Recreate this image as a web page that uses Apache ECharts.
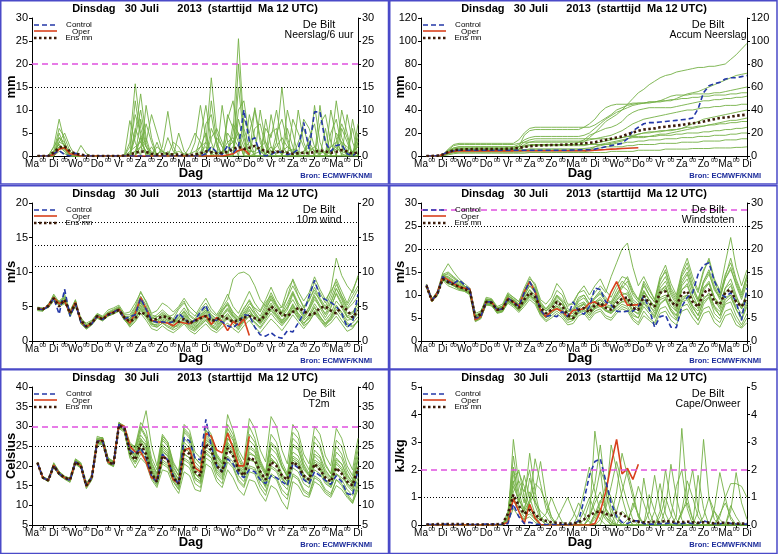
<!DOCTYPE html>
<html>
<head>
<meta charset="utf-8">
<script src="https://cdn.jsdelivr.net/npm/echarts@6/dist/echarts.min.js"></script>
<style>
  html, body { margin: 0; padding: 0; background: #fff; }
  #main { width: 778px; height: 554px; }
</style>
</head>
<body>
<div id="main"></div>
<script>
// tijd-as: daglabels om 12 UTC, "00" ertussen; data 6-uurlijks van +6 t/m +360 uur
const dayNames = ['Ma', 'Di', 'Wo', 'Do', 'Vr', 'Za', 'Zo', 'Ma', 'Di', 'Wo', 'Do', 'Vr', 'Za', 'Zo', 'Ma', 'Di'];

// ---------- Neerslag/6 uur (mm) ----------
const rainCtl = [
  0, 0, 0, 0.5, 1.2, 0.3, 0, 0.6, 0.2, 0,
  0, 0, 0, 0, 0, 0, 0, 0, 0, 0,
  0, 0, 0, 0, 0, 0, 0, 0, 0, 0,
  0, 0.5, 2.0, 0.8, 0.3, 2.3, 0.6, 2.0, 10, 3.2,
  4.0, 0.5, 0, 0.3, 1.0, 0.8, 0.3, 0.6, 1.5, 7.3,
  1.5, 9.6, 9.6, 3.0, 1.0, 2.3, 2.5, 0.5, 0, 1.0];
const rainOper = [
  0, 0, 0, 0.3, 1.5, 1.8, 0.5, 0.3, 0, 0,
  0, 0, 0, 0, 0, 0, 0, 0, 0, 0,
  0, 0, 0, 0, 0, 0, 0, 0, 0, 0,
  0, 0, 0, 0, 0, 0.2, 0.5, 1.2, 1.5, 0.3];
const rainMean = [
  0, 0, 0, 0.8, 1.8, 2.1, 1.0, 0.5, 0.3, 0.1,
  0, 0, 0, 0, 0, 0, 0.1, 0.3, 0.7, 1.0,
  0.9, 0.5, 0.3, 0.4, 0.5, 0.3, 0.3, 0.2, 0.2, 0.3,
  0.6, 1.0, 0.8, 0.6, 0.7, 0.9, 1.5, 2.0, 1.5, 1.8,
  2.2, 1.5, 1.0, 0.8, 0.9, 1.0, 0.7, 0.5, 0.6, 0.7,
  0.6, 0.9, 1.2, 1.0, 0.7, 0.9, 1.3, 1.0, 0.5, 0.8];
const rainMembers = [
  [0, 0, 0, 2, 8, 3, 0, 0, 0, 0,  0, 0, 0, 0, 0, 0, 0, 3, 15.7, 6,  2, 0, 0, 0, 0, 0, 0, 0, 0, 0,
   4, 11, 3, 0, 0, 0, 5, 25.5, 6, 2,  0, 0, 0, 0, 3, 15, 4, 0, 0, 0,  0, 0, 0, 0, 2, 12, 4, 1, 0, 0],
  [0, 0, 0, 1, 6, 4, 1, 0, 0, 0,  0, 0, 0, 0, 0, 0, 0, 0, 5, 13.5,  4, 0, 0, 2, 9.7, 2, 0, 0, 0, 0,
   0, 3, 17, 5, 2, 0, 0, 15, 4, 0,  0, 10, 3, 0, 0, 0, 0, 0, 0, 0,  0, 11, 3, 0, 0, 0, 0, 0, 8, 2],
  [0, 0, 0, 0, 5, 2, 0, 0, 2.3, 0.5,  0, 0, 0, 0, 0, 0, 0, 7.7, 3, 0,  11, 4, 0, 0, 0, 0, 5, 1, 0, 0,
   0, 0, 0, 0, 11, 3, 0, 0, 0, 0,  10.5, 4, 0, 9, 3, 0, 0, 0, 10, 3,  0, 0, 0, 0, 0, 0, 10, 5, 0, 7],
  [0, 0, 0, 2, 4, 2, 0, 0, 0, 0,  0, 0, 0, 0, 0, 0, 0, 0, 0, 4,  3, 9, 5, 1, 0, 0, 0, 0, 0, 3,
   11, 4, 0, 0, 0, 8, 12, 4, 0, 0,  0, 0, 8, 2, 0, 0, 6, 2, 0, 0,  0, 0, 11, 3, 0, 5, 3, 0, 0, 0],
  [0, 0, 0, 0, 3, 5, 2, 0, 0, 0,  0, 0, 0, 0, 0, 0, 0, 0, 12, 4,  0, 0, 3, 0, 0, 3, 2, 0, 0, 0,
   0, 0, 6, 3, 0, 0, 0, 10, 12, 4,  0, 0, 0, 0, 5, 8, 3, 0, 0, 0,  4, 7, 0, 0, 10, 4, 0, 0, 0, 5],
  [0, 0, 0, 1, 2.5, 1, 0, 0, 0, 0,  0, 0, 0, 0, 0, 0, 0, 2, 9, 5,  0, 2, 0, 0, 0, 0, 0, 0, 2, 5,
   3, 0, 0, 4, 2, 0, 7, 5, 0, 9,  4, 0, 0, 0, 0, 0, 0, 8, 5, 2,  0, 0, 0, 6, 0, 0, 0, 9, 3, 0],
  [0, 0, 0, 0, 4, 3, 0, 0, 0, 0,  0, 0, 0, 0, 0, 0, 0, 0, 0, 8,  2, 0, 0, 0, 4, 1, 0, 0, 0, 0,
   0, 7, 9, 2, 0, 5, 3, 0, 8, 5,  10, 3, 0, 0, 0, 0, 0, 0, 0, 8,  6, 2, 0, 0, 0, 0, 6, 3, 0, 4],
  [0, 0, 0, 0, 2, 1.5, 0, 0, 0, 0,  0, 0, 0, 0, 0, 0, 0, 0, 6, 3,  1, 0, 0, 0, 0, 0, 0, 0, 0, 0,
   0, 0, 4, 6, 3, 0, 0, 20, 5, 0,  0, 0, 6, 4, 10, 3, 0, 0, 0, 0,  0, 0, 7, 9, 3, 0, 0, 0, 6, 0],
  [0, 0, 0, 0, 1.5, 2, 1, 0, 0, 0,  0, 0, 0, 0, 0, 0, 0, 0, 0, 2,  7, 3, 0, 0, 0, 0, 0, 0, 0, 0,
   2, 5, 0, 0, 0, 9, 6, 3, 0, 0,  6, 7, 2, 0, 0, 0, 10, 5, 0, 0,  0, 0, 0, 0, 5, 8, 2, 0, 0, 0],
  [0, 0, 0, 0.5, 3, 2.5, 0, 0, 0, 0,  0, 0, 0, 0, 0, 0, 0, 0, 4, 10,  3, 0, 2, 1, 0, 0, 0, 0, 0, 0,
   0, 0, 12, 3, 0, 0, 0, 8, 3, 0,  0, 0, 0, 5, 6, 0, 0, 0, 3, 6,  2, 0, 0, 0, 0, 3, 7, 4, 0, 3],
  [0, 0, 0, 0.5, 2, 1, 0, 0, 0, 0,  0, 0, 0, 0, 0, 0, 0, 1, 2, 3,  1, 0, 0.5, 1, 0.5, 0, 0, 0, 0.5, 1,
   2, 3, 1, 0.5, 1, 2, 3, 5, 2, 1,  1, 2, 3, 1, 0.5, 1, 2, 1, 0.5, 1,  2, 1, 0.5, 1, 2, 3, 1, 0.5, 1, 2],
  [0, 0, 0, 0, 1, 0.5, 0, 0, 0, 0,  0, 0, 0, 0, 0, 0, 0, 0.5, 1, 2,  0.5, 0, 0, 0, 0, 0.5, 1, 0.5, 0, 0,
   0.5, 1, 2, 1, 0.5, 1, 2, 1, 1.5, 3,  2, 1, 0.5, 2, 1, 0.5, 1, 1.5, 1, 0.5,  1, 2, 1, 0.5, 1, 1.5, 3, 2, 1, 0.5],
  [0, 0, 0, 1, 2.5, 1.5, 0.3, 0, 0, 0,  0, 0, 0, 0, 0, 0, 0, 0, 1, 4,  2, 1, 0, 0, 1, 0, 0, 0, 0, 0,
   1, 2, 0.5, 0, 1, 3, 4, 2, 1, 0,  0.5, 1, 0, 1, 2, 4, 2, 1, 0, 1,  3, 1, 0, 0, 1, 2, 0.5, 0, 1, 2]
];

// ---------- Accum Neerslag (mm) ----------
const accCtl = [
  0, 0, 0.2, 1.5, 3.5, 4.5, 5, 5, 5, 5,
  5, 5, 5, 5, 5, 5, 5, 5, 5, 5,
  5, 5, 5, 5, 5, 5, 5, 5.2, 5.3, 5.4,
  5.5, 6, 7, 8, 9, 10, 11, 15, 22, 25,
  28, 29, 29, 29.5, 30, 30.5, 31, 31.5, 32, 33,
  41, 55, 61, 63, 64, 67, 68, 68, 69, 70];
const accOper = [
  0, 0, 0, 1, 3, 4, 4.5, 4.5, 4.5, 4.5,
  4.5, 4.5, 4.5, 4.5, 4.5, 4.5, 4.5, 4.6, 4.6, 4.6,
  4.6, 4.6, 4.6, 4.6, 4.6, 4.6, 4.6, 4.6, 4.6, 4.6,
  4.7, 5, 5.3, 5.6, 6, 6.2, 6.5, 6.8, 7, 7.2];
const accMean = [
  0, 0, 0.3, 1.2, 3.5, 5, 5.5, 5.8, 5.9, 6,
  6, 6, 6, 6.1, 6.1, 6.2, 6.5, 7, 8, 8.5,
  9, 9.2, 9.4, 9.5, 9.6, 9.8, 10, 10.2, 10.5, 11,
  11.5, 12, 13, 14, 15, 16, 17, 19, 20.5, 22,
  23, 23.5, 24, 25, 25.5, 26, 26.5, 27, 28, 28.5,
  29, 30, 31, 32, 33, 33.5, 34, 35, 35.5, 36];
const accMembers = [
  [0, 0, 0, 1, 5, 9, 10, 10, 10, 10,  10, 10, 10, 10, 10, 10, 10, 11, 12, 12,  12, 12, 12, 12, 12, 12, 12, 12, 12, 12,
   16, 20, 25, 30, 33, 36, 40, 45, 50, 55,  58, 62, 65, 68, 70, 71, 73, 74, 75, 76,  77, 77, 78, 78, 79, 80, 84, 88, 93, 98],
  [0, 0, 0, 1, 6, 10, 11, 11, 11, 11,  11, 11, 11, 11, 11, 11, 11, 14, 20, 24,  25, 25, 25, 25, 25, 25, 25, 25, 25, 25,
   25, 27, 30, 33, 36, 40, 42, 44, 45, 46,  46, 46, 47, 47, 48, 48, 50, 52, 54, 55,  56, 58, 60, 62, 64, 66, 68, 70, 71, 72],
  [0, 0, 0, 0.5, 3, 5, 6, 6, 6, 6,  6, 6, 6, 6, 6, 6, 6, 8, 18, 22,  23, 23, 23, 23, 23, 23, 23, 23, 23, 25,
   28, 32, 38, 42, 44, 45, 45, 45, 46, 46,  46, 47, 47, 48, 50, 52, 53, 53, 53, 54,  54, 54, 54, 55, 55, 56, 57, 58, 59, 60],
  [0, 0, 0, 1, 4, 6, 7, 7, 7, 7,  7, 7, 7, 7, 7, 7, 7, 8, 9, 10,  10, 10, 10, 10, 10, 10, 10, 10, 12, 14,
   18, 20, 22, 24, 25, 27, 30, 35, 38, 40,  41, 42, 42, 42, 42, 42, 43, 44, 45, 46,  47, 48, 48, 49, 49, 50, 50, 51, 51, 52],
  [0, 0, 0, 0.5, 3, 5, 5.5, 5.5, 5.5, 5.5,  5.5, 5.5, 5.5, 5.5, 5.5, 5.5, 5.5, 6, 10, 12,  13, 13, 13, 13, 13, 13, 13, 13, 13, 13,
   14, 15, 16, 17, 18, 20, 22, 25, 28, 30,  32, 33, 34, 35, 36, 37, 38, 39, 40, 40,  41, 42, 42, 43, 43, 44, 44, 44, 45, 45],
  [0, 0, 0, 1, 5, 7, 8, 8, 8, 8,  8, 8, 8, 8, 8, 8, 8, 8, 8, 9,  10, 10, 10, 10, 10, 10, 10, 10, 10, 10,
   10, 10, 10, 10, 11, 12, 13, 15, 17, 19,  20, 21, 21, 22, 22, 23, 23, 24, 26, 28,  30, 32, 33, 34, 35, 36, 37, 38, 39, 40],
  [0, 0, 0, 0.5, 2, 3, 3.5, 3.5, 3.5, 3.5,  3.5, 3.5, 3.5, 3.5, 3.5, 3.5, 3.5, 3.5, 3.5, 3.5,  3.5, 3.5, 3.5, 3.5, 3.5, 3.5, 3.5, 3.5, 3.5, 3.5,
   5, 8, 10, 11, 12, 13, 14, 15, 16, 16,  16, 17, 18, 19, 19, 20, 21, 22, 23, 24,  25, 26, 27, 28, 29, 30, 31, 31, 32, 33],
  [0, 0, 0, 1, 4, 6, 6.5, 6.5, 6.5, 6.5,  6.5, 6.5, 6.5, 6.5, 6.5, 6.5, 6.5, 8, 12, 14,  15, 15, 15, 15, 15, 15, 15, 15, 15, 15,
   15, 15, 15, 15, 15, 15, 16, 17, 17, 17,  17, 17, 17, 18, 18, 18, 19, 19, 20, 20,  20, 21, 21, 22, 22, 23, 23, 24, 24, 25],
  [0, 0, 0, 0, 2, 3, 3.5, 3.5, 3.5, 3.5,  3.5, 3.5, 3.5, 3.5, 3.5, 3.5, 3.5, 3.5, 5, 6,  6, 6, 6, 6, 6, 6, 6, 6, 6, 6,
   6, 6, 7, 8, 8, 8, 8, 9, 9, 10,  10, 10, 10, 11, 11, 11, 11, 12, 12, 12,  12, 13, 13, 13, 13, 14, 14, 14, 15, 15],
  [0, 0, 0, 0, 1, 2, 2.5, 2.5, 2.5, 2.5,  2.5, 2.5, 2.5, 2.5, 2.5, 2.5, 2.5, 2.5, 2.5, 3,  3, 3, 3, 3, 3, 3, 3, 3, 3, 3,
   3, 3, 3, 3, 4, 4, 4, 4, 4, 5,  5, 5, 5, 5, 6, 6, 6, 6, 6, 6.5,  6.5, 6.5, 6.5, 7, 7, 7, 7, 7.5, 7.5, 8],
  [0, 0, 0, 1, 4, 7, 8, 8, 8, 8,  8, 8, 8, 8, 8, 8, 8, 10, 14, 16,  17, 17, 17, 17, 17, 17, 17, 17, 17, 18,
   20, 24, 28, 32, 35, 38, 40, 42, 44, 45,  46, 47, 47, 48, 48, 49, 49, 50, 50, 51,  51, 52, 52, 53, 53, 53, 54, 54, 55, 55],
  [0, 0, 0, 0.5, 2, 4, 5, 5, 5, 5,  5, 5, 5, 5, 5, 5, 5, 6, 8, 9,  9, 9, 9, 9, 9, 9, 9, 9, 9, 9,
   10, 11, 12, 13, 14, 15, 16, 17, 18, 19,  20, 20, 21, 21, 22, 22, 23, 24, 25, 25,  26, 26, 27, 27, 28, 28, 29, 29, 30, 30],
  [0, 0, 0, 1, 3, 5, 5.5, 5.5, 5.5, 5.5,  5.5, 5.5, 5.5, 5.5, 5.5, 5.5, 5.5, 5.5, 5.5, 6,  6, 6, 6, 6, 6, 6, 6, 6, 6, 6.5,
   7, 8, 9, 10, 10, 11, 11, 12, 12, 13,  13, 14, 14, 14, 15, 15, 15, 16, 16, 16,  17, 17, 17, 18, 18, 18, 19, 19, 20, 20]
];

// ---------- 10m wind (m/s) ----------
const windCtl = [
  4.7, 4.5, 5.0, 6.2, 3.9, 7.5, 3.6, 5.4, 2.7, 2.0,
  2.5, 3.6, 3.1, 3.8, 4.2, 4.6, 3.2, 3.5, 3.8, 6.2,
  4.6, 3.0, 2.7, 2.8, 2.6, 2.8, 4.0, 3.3, 2.5, 3.0,
  4.2, 5.2, 3.0, 3.0, 2.8, 2.2, 1.9, 2.6, 3.8, 3.7,
  2.0, 0.9, 0.7, 1.2, 0.6, 0.4, 1.5, 1.3, 2.6, 4.0,
  6.5, 8.8, 6.5, 6.0, 5.6, 5.0, 4.0, 2.0, 2.7, 6.8];
const windOper = [
  4.7, 4.6, 5.1, 6.3, 5.4, 5.8, 4.0, 5.6, 2.8, 2.0,
  2.6, 3.6, 3.2, 3.9, 4.2, 4.6, 3.4, 2.6, 4.0, 6.3,
  4.7, 3.0, 2.8, 2.7, 2.6, 2.2, 2.8, 2.6, 2.5, 3.0,
  3.4, 3.7, 2.4, 3.4, 2.8, 1.5, 2.8, 2.3, 3.2, 0.8];
const windMean = [
  4.7, 4.6, 5.1, 6.2, 5.0, 6.0, 4.0, 5.4, 3.0, 2.1,
  2.6, 3.6, 3.1, 3.8, 4.1, 4.5, 3.4, 2.8, 3.3, 4.2,
  3.8, 3.0, 3.2, 3.6, 3.4, 3.0, 2.8, 3.2, 2.6, 2.9,
  3.3, 3.6, 2.9, 3.1, 3.6, 3.2, 2.8, 3.0, 3.4, 3.6,
  3.3, 3.0, 3.8, 5.0, 4.4, 3.9, 3.6, 4.2, 4.8, 4.4,
  3.8, 4.0, 4.8, 5.0, 4.4, 4.0, 5.0, 4.5, 3.4, 4.4];
const windMembers = [
  [4.5, 4.4, 5.3, 6.0, 5.8, 6.5, 3.6, 5.0, 3.2, 2.3,  2.9, 3.9, 3.5, 4.2, 4.6, 5.0, 3.6, 3.5, 4.8, 6.5,
   5.2, 3.3, 3.8, 4.5, 3.8, 3.2, 4.6, 5.5, 4.3, 3.6,  5.0, 6.2, 4.7, 3.8, 5.1, 6.8, 5.0, 4.0, 5.6, 7.2,
   5.5, 4.4, 6.0, 7.8, 6.0, 4.8, 6.3, 8.0, 6.5, 5.0,  6.0, 7.4, 5.8, 4.5, 6.2, 8.2, 6.6, 5.2, 6.6, 8.0],
  [4.8, 4.7, 5.0, 6.6, 5.0, 5.4, 4.4, 6.0, 2.5, 1.7,  2.3, 3.3, 2.9, 3.6, 3.9, 4.3, 3.0, 2.2, 3.0, 4.8,
   3.6, 2.6, 2.2, 3.0, 2.5, 2.0, 2.4, 3.2, 2.2, 1.8,  2.8, 3.5, 2.2, 1.5, 2.6, 3.4, 2.5, 1.6, 2.8, 3.6,
   2.6, 1.8, 2.9, 4.0, 3.0, 2.2, 3.2, 4.5, 3.2, 2.4,  3.6, 4.8, 3.5, 2.5, 3.0, 4.2, 3.0, 2.0, 2.6, 3.5],
  [4.6, 4.5, 5.2, 6.8, 5.6, 6.2, 3.8, 5.3, 3.0, 2.6,  3.0, 4.0, 3.6, 4.5, 4.8, 5.2, 4.0, 4.2, 5.5, 7.0,
   5.8, 4.0, 4.4, 5.5, 5.0, 4.2, 5.0, 6.2, 5.0, 4.2,  3.6, 4.5, 3.8, 3.2, 4.8, 6.0, 9.0, 9.8, 10.0, 9.5,
   8.0, 6.0, 5.0, 6.5, 5.2, 4.0, 5.5, 7.2, 5.5, 4.5,  6.5, 8.5, 7.0, 5.5, 7.5, 12.0, 9.5, 8.0, 7.0, 9.5],
  [4.9, 4.8, 4.8, 5.8, 5.2, 5.5, 4.2, 5.9, 2.6, 1.8,  2.4, 3.4, 3.0, 3.6, 4.0, 4.4, 3.2, 3.0, 4.0, 5.5,
   4.2, 2.5, 2.0, 2.6, 2.0, 1.6, 2.0, 2.8, 1.8, 1.4,  2.2, 3.0, 2.0, 1.6, 2.5, 3.2, 2.4, 1.8, 3.5, 5.0,
   4.0, 3.2, 4.8, 6.0, 4.6, 3.5, 4.5, 6.8, 5.0, 3.6,  4.5, 6.4, 4.8, 3.4, 4.8, 7.0, 5.5, 3.5, 3.0, 4.0],
  [4.4, 4.3, 5.4, 6.4, 5.7, 6.0, 3.5, 5.2, 3.4, 2.4,  2.7, 3.8, 3.4, 4.0, 4.5, 4.9, 3.8, 3.8, 5.0, 7.2,
   5.6, 3.8, 3.5, 4.0, 3.4, 2.8, 3.5, 4.2, 3.2, 2.6,  3.8, 4.8, 3.5, 2.8, 4.2, 5.4, 4.0, 3.2, 4.6, 6.0,
   4.6, 3.6, 5.2, 7.0, 5.4, 4.2, 6.4, 9.0, 7.2, 5.8,  7.0, 9.3, 7.5, 6.0, 7.2, 8.6, 6.5, 4.8, 6.0, 7.5],
  [4.6, 4.6, 4.9, 6.0, 5.5, 5.6, 4.1, 5.8, 2.9, 2.2,  2.5, 3.5, 3.3, 3.8, 4.1, 4.5, 3.2, 2.0, 2.8, 4.0,
   3.0, 1.8, 1.5, 2.2, 1.6, 1.2, 1.8, 2.5, 1.5, 1.0,  1.8, 2.5, 1.6, 1.2, 2.0, 2.6, 1.8, 1.2, 2.2, 3.0,
   2.0, 1.2, 2.2, 3.2, 2.4, 1.5, 2.6, 3.8, 2.8, 1.8,  2.8, 4.0, 3.0, 2.0, 2.6, 3.6, 2.5, 1.4, 1.8, 3.0],
  [4.7, 4.5, 5.1, 6.5, 5.2, 6.8, 4.3, 5.5, 3.1, 2.0,  2.7, 3.7, 3.2, 4.0, 4.3, 4.8, 3.6, 3.2, 4.5, 6.0,
   4.8, 3.6, 3.0, 3.8, 3.5, 3.8, 4.8, 5.8, 3.8, 3.2,  4.6, 5.5, 4.2, 3.6, 4.6, 5.2, 3.6, 2.8, 3.8, 4.6,
   3.2, 2.6, 3.8, 5.2, 4.4, 5.0, 7.5, 8.8, 6.5, 4.8,  5.8, 7.8, 6.2, 5.0, 6.8, 9.0, 7.2, 5.5, 7.4, 9.2],
  [4.5, 4.7, 5.0, 6.1, 5.3, 5.9, 3.9, 5.7, 2.7, 1.9,  2.6, 3.5, 3.1, 3.7, 4.1, 4.5, 3.3, 2.5, 3.6, 5.2,
   4.0, 2.8, 2.6, 3.2, 2.8, 2.3, 3.0, 3.8, 2.8, 2.2,  3.4, 4.2, 3.2, 2.6, 3.6, 4.4, 3.4, 2.6, 3.2, 4.0,
   3.6, 2.8, 4.2, 5.5, 4.2, 3.0, 4.0, 5.2, 3.8, 2.6,  3.4, 5.0, 3.6, 2.4, 3.4, 5.0, 4.0, 2.6, 2.2, 2.8],
  [4.8, 4.5, 5.2, 6.3, 5.5, 5.7, 4.0, 5.4, 2.9, 2.1,  2.5, 3.7, 3.3, 3.9, 4.3, 4.7, 3.5, 2.9, 4.2, 5.8,
   4.5, 3.2, 3.4, 4.2, 3.6, 3.0, 3.8, 4.8, 3.6, 3.0,  4.2, 5.0, 3.8, 3.0, 4.4, 5.6, 4.2, 3.4, 4.8, 5.8,
   4.2, 3.0, 4.0, 5.0, 3.8, 2.8, 3.6, 5.0, 4.0, 3.2,  4.4, 6.0, 5.0, 4.0, 5.5, 7.6, 6.2, 4.6, 5.4, 6.4],
  [4.6, 4.4, 5.0, 6.2, 5.4, 5.8, 3.7, 5.6, 2.6, 1.8,  2.4, 3.5, 3.0, 3.7, 4.0, 4.4, 3.1, 2.4, 3.2, 4.4,
   3.4, 2.2, 2.0, 2.6, 2.2, 1.8, 2.6, 3.4, 2.4, 1.8,  2.6, 3.2, 2.4, 2.0, 3.0, 3.8, 3.0, 2.2, 2.8, 3.6,
   2.8, 2.0, 3.2, 4.6, 3.6, 2.6, 3.4, 4.8, 3.6, 2.6,  3.2, 4.4, 3.4, 2.6, 3.6, 5.2, 4.2, 3.0, 3.2, 4.6],
  [4.6, 4.6, 5.2, 6.4, 5.6, 6.3, 3.9, 5.2, 3.1, 2.2,  2.8, 3.8, 3.4, 4.1, 4.4, 4.8, 3.6, 3.2, 4.4, 6.0,
   4.6, 3.4, 3.0, 3.6, 3.0, 2.6, 3.2, 4.0, 3.0, 2.4,  3.2, 4.0, 3.0, 2.4, 3.6, 4.6, 3.6, 3.0, 4.2, 5.4,
   4.8, 4.2, 5.6, 6.6, 5.2, 4.0, 4.8, 6.0, 4.6, 3.4,  5.0, 7.0, 6.0, 4.6, 5.6, 7.6, 6.0, 4.0, 4.2, 5.4],
  [4.7, 4.5, 4.9, 6.1, 5.3, 5.6, 4.2, 5.8, 2.6, 1.9,  2.5, 3.4, 3.1, 3.8, 4.0, 4.5, 3.2, 2.3, 3.4, 4.6,
   3.6, 2.4, 2.4, 3.0, 2.6, 2.0, 2.2, 3.0, 2.0, 1.6,  2.4, 3.0, 2.2, 1.8, 2.8, 3.6, 2.8, 2.0, 3.0, 4.0,
   3.2, 2.4, 3.6, 5.0, 3.8, 2.8, 3.8, 5.4, 4.0, 3.0,  3.8, 5.4, 4.2, 3.0, 4.0, 5.8, 4.8, 3.4, 3.6, 5.0],
  [4.5, 4.6, 5.0, 6.3, 5.2, 6.0, 4.1, 5.5, 2.9, 2.0,  2.7, 3.6, 3.2, 3.9, 4.2, 4.6, 3.4, 3.0, 4.0, 5.6,
   4.4, 3.0, 2.8, 3.4, 3.0, 2.6, 3.4, 4.4, 3.2, 2.6,  3.6, 4.4, 3.4, 2.8, 3.8, 4.8, 3.8, 3.0, 4.0, 5.0,
   3.8, 3.0, 4.4, 6.2, 5.0, 3.6, 5.0, 7.0, 5.2, 3.8,  4.8, 6.6, 5.2, 3.8, 5.0, 6.8, 5.2, 3.6, 4.0, 5.6],
  [4.8, 4.4, 5.1, 6.2, 5.5, 5.9, 4.0, 5.5, 2.8, 2.1,  2.6, 3.6, 3.2, 3.8, 4.1, 4.6, 3.4, 2.7, 3.8, 5.0,
   3.8, 2.8, 3.0, 3.8, 3.2, 2.6, 3.0, 3.6, 2.6, 2.0,  2.9, 3.8, 2.8, 2.2, 3.2, 4.0, 3.0, 2.4, 3.4, 4.4,
   3.4, 2.6, 3.4, 4.4, 3.4, 2.4, 3.2, 4.4, 3.4, 2.2,  2.8, 4.2, 3.2, 2.2, 3.2, 4.6, 3.6, 2.4, 2.0, 3.0]
];

// ---------- Windstoten (m/s) ----------
const gustCtl = [
  12.2, 8.9, 10.2, 14.0, 12.9, 12.5, 13.3, 12.2, 11.1, 5.0,
  5.3, 8.5, 8.5, 6.7, 7.0, 9.3, 8.5, 7.5, 10.5, 12.9,
  10.7, 6.7, 5.3, 5.6, 5.3, 6.4, 5.3, 8.5, 6.5, 5.8,
  7.5, 11.5, 11.2, 8.5, 7.8, 6.5, 6.3, 6.5, 6.5, 7.5,
  9.8, 7.0, 3.0, 5.3, 5.6, 3.0, 2.9, 7.5, 9.5, 10.5,
  14.5, 16.5, 17.0, 13.0, 10.5, 9.5, 10.5, 8.5, 4.5, 11.5];
const gustOper = [
  12.2, 8.7, 10.5, 14.0, 13.3, 12.5, 11.8, 11.5, 11.3, 4.6,
  5.3, 8.5, 8.5, 6.7, 7.0, 9.3, 8.5, 7.5, 10.7, 12.9,
  10.7, 6.7, 5.3, 6.5, 7.0, 6.4, 5.3, 6.7, 6.8, 7.0,
  8.2, 8.5, 7.5, 7.8, 10.7, 12.9, 10.0, 7.8, 7.8, 7.9];
const gustMean = [
  12.0, 8.8, 10.2, 13.5, 12.8, 12.3, 11.8, 11.3, 10.8, 5.2,
  5.8, 8.5, 8.3, 6.8, 7.0, 9.0, 8.5, 7.2, 9.0, 10.5,
  9.6, 7.2, 6.0, 6.8, 8.5, 7.6, 5.6, 5.0, 6.8, 7.2,
  6.2, 7.8, 8.3, 7.2, 6.8, 8.2, 9.2, 9.5, 7.2, 6.8,
  9.8, 8.2, 7.5, 10.5, 10.8, 8.5, 7.6, 10.3, 10.8, 8.5,
  7.4, 10.5, 11.2, 8.5, 8.0, 10.5, 11.2, 8.5, 7.5, 9.5];
const gustMembers = [
  [12.0, 9.2, 10.5, 14.5, 15.0, 14.0, 13.0, 12.0, 11.0, 5.5,  6.2, 9.5, 9.2, 7.5, 8.0, 10.5, 9.5, 8.5, 11.5, 14.0,
   12.0, 8.5, 7.0, 8.0, 10.0, 9.0, 7.5, 8.5, 10.5, 11.0,  9.0, 10.5, 12.0, 10.5, 14.0, 17.0, 20.0, 21.3, 16.0, 12.0,
   14.0, 11.5, 9.0, 13.0, 15.5, 11.5, 9.5, 14.5, 17.0, 13.0,  10.5, 15.0, 18.0, 13.5, 11.0, 17.0, 22.5, 16.0, 12.0, 15.5],
  [12.3, 8.5, 10.0, 13.5, 12.5, 12.0, 11.5, 11.0, 10.5, 4.5,  5.0, 7.8, 7.8, 6.0, 6.3, 8.5, 7.8, 6.5, 8.0, 9.5,
   8.5, 5.8, 4.5, 5.5, 6.5, 5.5, 4.0, 4.5, 6.0, 6.5,  5.0, 6.5, 7.0, 5.5, 5.0, 6.5, 7.5, 7.0, 5.0, 4.0,
   6.5, 5.0, 4.0, 7.0, 7.5, 5.5, 4.5, 7.5, 8.0, 6.0,  4.5, 7.0, 7.5, 5.0, 4.0, 6.5, 7.0, 4.5, 3.0, 5.0],
  [11.8, 9.0, 10.8, 14.8, 16.8, 15.0, 13.5, 12.5, 11.5, 6.0,  6.5, 9.0, 9.0, 7.0, 7.5, 10.0, 9.0, 8.0, 10.0, 12.0,
   11.0, 8.0, 7.0, 8.5, 11.0, 10.0, 7.0, 6.5, 9.0, 10.0,  8.0, 9.5, 10.5, 9.0, 8.5, 11.0, 13.0, 12.0, 9.0, 8.0,
   12.5, 10.0, 8.5, 13.5, 15.0, 11.0, 9.0, 14.0, 16.0, 12.0,  9.0, 13.0, 15.0, 11.0, 9.5, 13.5, 16.0, 12.0, 9.0, 12.5],
  [12.1, 8.8, 10.3, 13.8, 13.0, 12.6, 12.0, 11.6, 11.0, 4.8,  5.5, 8.8, 8.6, 6.5, 6.8, 9.0, 8.2, 7.0, 9.5, 11.0,
   9.5, 6.5, 5.5, 6.5, 8.0, 7.0, 5.0, 4.8, 6.5, 7.0,  5.5, 7.0, 7.5, 6.5, 6.0, 7.5, 8.5, 8.5, 6.0, 5.0,
   8.5, 7.0, 5.5, 9.0, 9.5, 6.5, 4.8, 8.5, 9.0, 6.5,  4.5, 8.0, 9.5, 6.0, 4.8, 8.0, 8.5, 5.5, 3.5, 6.0],
  [11.5, 8.6, 9.8, 13.2, 12.0, 11.5, 11.0, 10.8, 10.2, 4.3,  5.0, 8.0, 8.0, 6.2, 6.5, 8.8, 8.0, 6.8, 8.5, 10.0,
   9.0, 6.0, 5.0, 6.0, 7.0, 6.0, 4.5, 5.0, 7.0, 8.0,  6.5, 8.0, 9.0, 7.5, 7.0, 9.0, 10.5, 10.0, 7.5, 6.5,
   10.0, 8.0, 6.0, 10.5, 12.0, 9.0, 7.0, 12.0, 13.5, 10.0,  7.5, 11.5, 13.0, 9.5, 7.5, 11.5, 13.5, 10.0, 7.0, 10.5],
  [12.4, 9.3, 10.6, 14.2, 14.0, 13.2, 12.5, 11.8, 11.4, 5.3,  6.0, 9.2, 9.0, 7.2, 7.5, 9.8, 9.2, 8.0, 10.5, 13.0,
   11.5, 8.0, 6.5, 7.5, 9.5, 8.5, 6.0, 6.0, 8.0, 8.5,  7.0, 8.5, 9.5, 8.0, 7.5, 9.5, 11.5, 13.0, 10.0, 8.5,
   11.0, 9.0, 7.5, 11.5, 13.0, 10.0, 8.0, 12.5, 14.5, 11.0,  8.5, 12.5, 14.5, 11.5, 9.0, 13.5, 15.5, 12.5, 9.5, 13.5],
  [11.9, 8.7, 10.0, 13.6, 12.6, 12.0, 11.2, 10.8, 10.0, 4.6,  5.2, 7.9, 7.6, 6.2, 6.4, 8.2, 7.4, 6.2, 7.5, 9.0,
   8.0, 5.5, 4.2, 5.0, 6.0, 5.0, 3.5, 3.8, 5.5, 6.0,  4.5, 6.0, 6.5, 5.0, 4.5, 6.0, 7.0, 6.5, 4.5, 3.5,
   5.5, 4.5, 3.5, 6.0, 6.5, 4.5, 3.5, 6.5, 7.0, 5.0,  3.5, 6.0, 6.5, 4.0, 3.0, 5.5, 6.0, 3.5, 2.8, 4.0],
  [12.2, 9.0, 10.4, 14.0, 13.6, 12.8, 12.2, 11.4, 11.0, 5.0,  5.8, 8.6, 8.4, 6.8, 7.2, 9.5, 8.8, 7.8, 9.8, 12.0,
   10.5, 7.5, 6.5, 7.5, 9.0, 8.0, 6.5, 7.0, 9.5, 10.0,  8.0, 9.5, 11.0, 9.5, 8.0, 10.0, 12.0, 11.0, 8.5, 7.5,
   10.5, 9.0, 7.0, 10.0, 11.5, 8.5, 6.5, 11.0, 12.5, 9.0,  7.0, 11.0, 12.5, 9.0, 7.0, 10.5, 12.0, 9.0, 7.0, 9.0],
  [11.7, 8.9, 10.1, 13.9, 14.8, 13.8, 12.8, 12.0, 10.8, 5.6,  6.2, 9.0, 8.8, 7.0, 7.6, 10.2, 9.5, 8.6, 11.0, 13.5,
   12.5, 9.0, 8.0, 9.5, 12.5, 11.0, 8.0, 8.0, 10.5, 12.0,  10.0, 12.0, 13.5, 11.0, 9.5, 12.0, 14.0, 13.5, 10.5, 9.0,
   13.0, 11.0, 9.0, 14.0, 16.5, 12.5, 10.0, 15.0, 18.0, 14.0,  11.0, 15.5, 17.5, 13.0, 10.0, 14.5, 17.0, 13.0, 10.0, 14.5],
  [12.0, 8.6, 10.2, 13.4, 12.4, 12.2, 11.6, 11.2, 10.6, 4.2,  4.8, 8.2, 8.2, 6.4, 6.8, 8.8, 8.0, 6.8, 8.8, 10.5,
   9.2, 6.5, 5.5, 6.5, 7.5, 6.5, 5.0, 5.5, 7.5, 8.0,  6.0, 7.5, 8.0, 6.5, 6.0, 7.0, 8.0, 7.5, 5.5, 5.0,
   7.5, 6.0, 5.0, 8.0, 9.0, 6.5, 5.5, 9.0, 10.0, 7.5,  5.5, 9.0, 10.5, 7.5, 5.5, 9.0, 10.0, 7.0, 4.5, 7.5],
  [12.1, 8.8, 10.3, 14.2, 13.8, 13.0, 12.2, 11.6, 10.9, 5.1,  5.6, 8.8, 8.6, 6.9, 7.3, 9.4, 8.6, 7.4, 9.2, 11.2,
   10.0, 7.0, 5.8, 7.0, 8.8, 7.8, 5.8, 5.5, 7.5, 8.2,  6.8, 8.4, 9.0, 7.6, 7.2, 8.8, 10.0, 10.5, 8.0, 7.0,
   10.8, 9.0, 7.6, 11.0, 12.0, 9.0, 7.8, 11.2, 12.0, 9.0,  7.8, 11.6, 12.5, 9.5, 8.0, 11.5, 12.5, 9.5, 7.5, 10.5],
  [12.0, 8.7, 10.1, 13.6, 12.7, 12.1, 11.6, 11.1, 10.5, 4.9,  5.4, 8.3, 8.1, 6.5, 6.8, 8.8, 8.0, 6.8, 8.6, 10.0,
   9.0, 6.4, 5.2, 6.2, 7.6, 6.8, 5.0, 4.5, 6.2, 6.8,  5.6, 7.2, 7.8, 6.6, 6.2, 7.6, 8.6, 8.8, 6.6, 6.0,
   9.0, 7.4, 6.6, 9.4, 10.0, 7.6, 6.4, 9.5, 10.0, 7.6,  6.5, 9.5, 10.0, 7.6, 6.4, 9.5, 10.0, 7.5, 6.0, 8.5],
  [12.3, 9.1, 10.5, 14.4, 14.4, 13.6, 12.8, 12.0, 11.2, 5.4,  6.0, 9.0, 8.8, 7.2, 7.6, 9.8, 9.0, 7.8, 10.2, 12.6,
   11.2, 7.8, 6.6, 7.8, 9.8, 8.6, 6.4, 6.4, 8.6, 9.4,  7.6, 9.2, 10.2, 8.6, 8.2, 10.2, 12.2, 14.0, 11.0, 9.0,
   12.0, 10.0, 8.4, 12.2, 14.0, 10.5, 8.5, 13.2, 15.0, 11.5,  9.0, 13.0, 15.5, 12.0, 9.5, 14.0, 18.0, 13.5, 10.5, 14.0],
  [11.9, 8.6, 10.0, 13.5, 12.6, 12.0, 11.3, 10.9, 10.4, 4.5,  5.1, 8.0, 7.9, 6.3, 6.6, 8.6, 7.7, 6.6, 8.2, 9.8,
   8.8, 6.2, 5.0, 6.0, 7.2, 6.2, 4.6, 4.8, 6.6, 7.4,  6.2, 7.4, 8.4, 6.8, 6.4, 7.8, 9.2, 9.0, 6.6, 5.8,
   8.2, 6.6, 5.2, 8.2, 9.2, 7.0, 5.6, 8.8, 9.6, 7.2,  5.6, 8.6, 9.6, 7.0, 5.6, 8.4, 9.5, 6.8, 5.0, 8.0]
];

// ---------- T2m (Celsius) ----------
const tempCtl = [
  20.8, 17.0, 16.3, 20.2, 18.0, 17.0, 16.3, 21.0, 20.0, 15.0,
  17.0, 26.3, 26.3, 21.0, 20.5, 30.5, 29.5, 24.0, 23.0, 24.5,
  22.0, 17.5, 15.8, 23.0, 21.5, 17.5, 15.3, 27.2, 26.3, 22.0,
  21.5, 31.8, 25.0, 20.0, 18.5, 21.8, 20.5, 18.0, 17.0, 19.0,
  18.5, 16.5, 15.5, 17.5, 17.0, 16.0, 15.0, 20.5, 19.5, 16.5,
  15.5, 18.5, 17.5, 16.3, 15.3, 17.5, 16.0, 13.0, 12.5, 19.0];
const tempOper = [
  20.8, 17.0, 16.3, 20.2, 18.0, 17.0, 16.5, 21.0, 20.0, 14.8,
  17.0, 26.3, 26.5, 21.0, 20.5, 30.5, 30.0, 25.0, 23.5, 23.5,
  21.0, 17.0, 16.5, 22.5, 21.5, 16.5, 15.5, 24.0, 24.5, 19.5,
  18.5, 28.3, 27.5, 24.0, 23.3, 28.3, 24.5, 20.0, 20.0, 27.5];
const tempMean = [
  20.8, 17.0, 16.3, 20.0, 18.0, 17.0, 16.5, 21.0, 20.0, 15.0,
  17.0, 26.0, 26.3, 21.0, 20.3, 30.3, 29.5, 23.5, 21.5, 25.5,
  23.0, 18.0, 16.0, 22.5, 21.5, 17.0, 15.5, 24.0, 23.0, 18.5,
  17.5, 25.5, 24.0, 20.0, 18.5, 24.5, 22.5, 19.0, 17.5, 22.0,
  21.5, 18.5, 16.5, 21.0, 20.0, 17.5, 16.5, 21.0, 20.0, 17.5,
  16.5, 20.5, 19.0, 17.0, 16.0, 19.5, 18.0, 16.0, 15.0, 19.5];
const tempMembers = [
  [21.0, 17.3, 16.6, 20.8, 18.6, 17.4, 16.8, 21.8, 20.8, 15.5,  17.6, 27.5, 27.0, 21.5, 21.0, 31.0, 30.0, 25.5, 24.0, 28.5,
   34.0, 25.0, 20.0, 28.0, 26.0, 21.0, 18.5, 29.0, 27.5, 22.0,  20.5, 30.0, 28.0, 23.0, 21.0, 33.0, 29.0, 24.0, 21.5, 32.0,
   29.5, 24.0, 21.0, 32.5, 30.0, 24.0, 20.5, 30.5, 28.5, 23.0,  20.5, 30.0, 28.0, 22.5, 20.0, 29.5, 27.0, 22.0, 19.0, 27.0],
  [20.6, 16.8, 16.0, 19.6, 17.6, 16.6, 15.8, 20.4, 19.4, 14.2,  16.4, 25.2, 25.5, 20.5, 19.8, 29.5, 28.5, 22.0, 19.5, 22.0,
   20.5, 16.5, 14.5, 19.0, 18.5, 15.0, 13.0, 18.5, 17.5, 14.0,  13.5, 20.5, 19.5, 16.0, 14.5, 19.0, 17.0, 14.0, 12.5, 16.5,
   16.0, 13.0, 11.0, 15.0, 14.0, 11.0, 9.0, 16.0, 15.0, 12.5,  12.0, 16.0, 15.0, 13.0, 12.0, 15.0, 14.0, 12.0, 10.5, 15.0],
  [20.9, 17.1, 16.4, 20.3, 18.2, 17.2, 16.6, 21.2, 20.3, 15.2,  17.2, 26.5, 26.8, 21.5, 20.8, 31.0, 29.8, 24.5, 23.0, 27.0,
   25.0, 19.5, 17.0, 24.5, 23.0, 18.5, 16.5, 26.0, 24.5, 19.5,  18.5, 27.5, 26.0, 21.5, 20.0, 27.0, 25.0, 20.5, 18.5, 25.0,
   24.0, 20.0, 17.5, 24.5, 23.0, 19.5, 17.5, 23.5, 22.5, 19.0,  17.5, 22.5, 21.0, 18.5, 17.0, 22.0, 20.5, 17.5, 16.0, 21.5],
  [20.7, 16.9, 16.2, 20.0, 17.8, 16.8, 16.3, 20.8, 19.8, 14.8,  16.8, 25.8, 26.0, 20.8, 20.0, 30.0, 29.0, 23.0, 21.0, 24.0,
   21.5, 17.0, 15.0, 21.5, 20.5, 16.5, 14.5, 22.0, 21.0, 17.0,  16.0, 23.5, 22.0, 18.5, 17.0, 22.5, 21.0, 17.5, 16.0, 20.0,
   19.5, 16.5, 15.0, 19.5, 18.5, 15.5, 14.0, 19.5, 18.5, 15.5,  14.5, 19.0, 18.0, 15.5, 14.5, 18.0, 16.5, 14.0, 12.5, 17.0],
  [20.8, 17.2, 16.5, 20.5, 18.4, 17.3, 16.7, 21.5, 20.5, 15.3,  17.3, 26.8, 27.2, 22.0, 21.0, 30.8, 30.2, 26.0, 24.5, 30.0,
   27.5, 21.0, 18.0, 26.5, 25.0, 19.5, 17.5, 28.5, 27.0, 21.0,  19.5, 29.0, 27.5, 22.5, 20.5, 29.5, 27.0, 22.0, 19.5, 30.0,
   27.0, 21.5, 18.5, 28.0, 26.0, 21.0, 18.0, 27.0, 25.5, 20.5,  18.0, 27.5, 25.5, 20.5, 18.0, 25.0, 23.0, 19.0, 16.5, 24.0],
  [20.8, 17.0, 16.2, 20.0, 17.9, 16.9, 16.4, 20.9, 19.9, 14.9,  16.9, 26.0, 26.2, 21.0, 20.2, 30.2, 29.3, 23.5, 22.0, 25.5,
   23.5, 18.0, 16.0, 22.5, 21.5, 17.0, 15.0, 23.0, 22.0, 18.0,  17.0, 25.0, 23.5, 19.5, 18.0, 24.0, 22.5, 18.5, 17.0, 21.5,
   21.0, 17.5, 15.5, 21.5, 20.5, 17.0, 15.0, 21.0, 20.0, 16.5,  15.5, 20.5, 19.5, 16.5, 15.0, 19.5, 18.5, 15.5, 14.0, 18.5],
  [20.9, 17.1, 16.5, 20.4, 18.3, 17.1, 16.6, 21.3, 20.2, 15.1,  17.1, 26.3, 26.5, 21.2, 20.6, 30.6, 29.7, 24.8, 23.8, 27.8,
   26.0, 20.0, 17.5, 25.5, 24.0, 19.0, 16.5, 27.0, 25.5, 20.0,  19.0, 28.0, 26.5, 22.0, 20.5, 30.5, 28.0, 23.0, 20.0, 28.0,
   26.0, 21.0, 18.0, 25.5, 24.0, 20.0, 17.0, 25.0, 24.0, 20.0,  17.5, 24.0, 22.5, 19.0, 17.0, 23.5, 22.0, 18.0, 15.5, 22.5],
  [20.7, 16.8, 16.1, 19.8, 17.7, 16.7, 16.0, 20.6, 19.6, 14.5,  16.6, 25.5, 25.8, 20.6, 19.9, 29.8, 28.8, 22.5, 20.5, 23.0,
   22.0, 17.0, 15.5, 20.5, 19.5, 16.0, 14.0, 20.5, 19.5, 15.5,  14.5, 22.0, 21.0, 17.0, 15.5, 21.0, 19.5, 16.0, 14.5, 18.5,
   18.0, 14.5, 12.5, 17.5, 16.5, 13.0, 11.5, 18.0, 17.0, 14.0,  13.0, 17.5, 16.5, 14.0, 13.0, 16.5, 15.5, 13.0, 11.0, 16.0],
  [20.8, 17.0, 16.3, 20.1, 18.1, 17.0, 16.5, 21.1, 20.1, 15.0,  17.0, 26.2, 26.4, 21.1, 20.4, 30.4, 29.6, 24.2, 22.5, 26.0,
   24.5, 19.0, 16.5, 23.5, 22.5, 18.0, 16.0, 25.0, 24.0, 19.0,  18.0, 26.0, 25.0, 20.5, 19.0, 26.0, 24.0, 19.5, 18.0, 23.5,
   22.5, 18.5, 16.5, 23.0, 21.5, 18.0, 16.0, 22.5, 21.5, 18.0,  16.5, 21.5, 20.5, 17.5, 16.0, 21.0, 19.5, 16.5, 15.0, 20.0],
  [20.8, 17.1, 16.4, 20.6, 18.5, 17.3, 16.9, 21.6, 20.6, 15.4,  17.4, 27.0, 27.2, 22.0, 21.2, 30.9, 30.0, 25.5, 25.0, 31.0,
   29.0, 22.0, 19.0, 27.0, 25.5, 20.5, 18.5, 30.5, 29.0, 23.5,  22.0, 27.0, 25.5, 21.0, 19.5, 25.0, 23.0, 19.0, 17.5, 24.5,
   23.5, 19.0, 16.0, 22.0, 20.5, 17.0, 15.0, 21.5, 20.5, 17.0,  15.5, 21.0, 20.0, 16.5, 15.0, 20.5, 19.0, 15.0, 13.5, 19.5],
  [20.8, 17.0, 16.2, 20.2, 18.2, 17.1, 16.4, 21.0, 20.1, 15.0,  17.0, 26.2, 26.6, 21.2, 20.5, 30.7, 29.9, 24.0, 22.0, 26.5,
   24.0, 18.5, 16.0, 24.0, 22.5, 17.5, 15.0, 24.5, 23.5, 18.0,  16.5, 24.0, 23.0, 19.0, 17.5, 27.0, 25.5, 20.0, 18.0, 23.0,
   22.5, 18.0, 15.0, 20.0, 19.0, 16.5, 15.5, 22.0, 21.0, 17.5,  16.0, 20.0, 19.0, 16.0, 14.5, 18.0, 17.0, 15.5, 14.5, 19.0],
  [20.7, 16.9, 16.3, 19.9, 17.9, 16.9, 16.2, 20.7, 19.7, 14.7,  16.7, 25.6, 25.9, 20.7, 20.0, 29.9, 29.0, 22.8, 21.0, 24.5,
   22.5, 17.5, 15.5, 21.0, 20.0, 16.0, 14.0, 21.5, 20.5, 16.5,  15.5, 23.0, 22.0, 18.0, 16.5, 22.0, 20.0, 16.5, 15.0, 19.5,
   19.0, 15.5, 13.5, 18.0, 17.0, 14.0, 12.5, 17.5, 16.5, 13.5,  12.5, 17.0, 16.0, 13.5, 12.5, 16.5, 15.0, 12.5, 10.5, 14.0],
  [20.9, 17.2, 16.5, 20.5, 18.3, 17.2, 16.7, 21.4, 20.4, 15.3,  17.3, 26.6, 27.0, 21.8, 21.0, 30.9, 30.1, 25.2, 24.5, 29.5,
   27.0, 20.5, 18.0, 27.5, 26.0, 20.0, 17.5, 29.5, 28.0, 22.0,  20.5, 29.0, 27.0, 22.5, 20.5, 28.5, 26.5, 21.5, 19.0, 26.5,
   25.0, 20.5, 18.0, 26.0, 24.5, 20.0, 17.5, 28.5, 27.0, 21.5,  19.0, 26.0, 24.5, 20.0, 18.0, 26.5, 25.0, 20.0, 17.5, 25.5],
  [20.8, 17.0, 16.4, 20.3, 18.1, 17.1, 16.5, 21.2, 20.2, 15.1,  17.1, 26.4, 26.6, 21.3, 20.6, 30.5, 29.6, 23.8, 22.8, 26.5,
   25.5, 19.0, 16.5, 25.0, 23.5, 18.0, 15.5, 23.0, 22.0, 17.0,  16.0, 26.5, 25.5, 21.0, 19.5, 25.5, 23.5, 19.0, 17.0, 22.0,
   21.0, 17.0, 14.5, 21.5, 20.5, 17.5, 16.0, 25.5, 24.5, 19.5,  17.5, 23.0, 22.0, 18.0, 16.5, 21.5, 20.5, 17.0, 15.5, 21.5]
];

// ---------- Cape/Onweer (kJ/kg) ----------
const capeCtl = [
  0.03, 0.02, 0.02, 0.03, 0.02, 0.02, 0.02, 0.03, 0.02, 0.02,
  0.02, 0.03, 0.03, 0.02, 0.02, 0.05, 0.75, 0.3, 0.05, 0.1,
  0.03, 0.02, 0.02, 0.02, 0.02, 0.02, 0.02, 0.03, 0.15, 0.9,
  1.8, 2.3, 2.4, 1.6, 0.8, 0.3, 0.1, 0.05, 0.15, 0.15,
  0.05, 0.03, 0.03, 0.05, 0.05, 0.08, 0.05, 0.05, 0.08, 0.05,
  0.05, 0.15, 0.1, 0.05, 0.04, 0.1, 0.06, 0.04, 0.03, 0.03];
const capeOper = [
  0, 0, 0, 0, 0, 0, 0, 0, 0, 0,
  0, 0, 0, 0, 0.02, 0.1, 0.95, 0.5, 0.05, 0.75,
  0.25, 0.02, 0, 0, 0, 0, 0, 0, 0, 0,
  0, 0.05, 0.5, 1.2, 2.2, 3.1, 1.85, 2.05, 1.65, 2.2];
const capeMean = [
  0.02, 0.02, 0.03, 0.03, 0.03, 0.03, 0.03, 0.03, 0.02, 0.02,
  0.02, 0.02, 0.02, 0.03, 0.05, 0.4, 1.1, 0.7, 0.4, 0.55,
  0.4, 0.2, 0.15, 0.1, 0.08, 0.05, 0.05, 0.05, 0.1, 0.2,
  0.35, 0.45, 0.5, 0.4, 0.35, 0.45, 0.4, 0.25, 0.15, 0.12,
  0.1, 0.1, 0.12, 0.1, 0.15, 0.12, 0.1, 0.1, 0.12, 0.1,
  0.08, 0.1, 0.08, 0.06, 0.08, 0.08, 0.06, 0.05, 0.05, 0.05];
const capeMembers = [
  [0, 0, 0, 0, 0, 0, 0, 0, 0, 0,  0, 0, 0, 0, 0, 0.1, 3.1, 1.5, 0.8, 2.6,  1.2, 0.3, 0.1, 0, 0, 0, 0, 0, 0, 0,
   0.2, 3.4, 2.0, 0.5, 0.1, 0, 0, 0, 0, 0,  0, 0, 0, 0, 0, 0, 0.3, 3.5, 1.0, 0.2,  0, 0, 0, 0, 0, 0, 0, 0, 0, 0],
  [0, 0, 0, 0, 0, 0, 0, 0, 0, 0,  0, 0, 0, 0, 0, 0.5, 2.1, 1.0, 0.4, 0.8,  2.4, 1.5, 0.6, 0.2, 0, 0, 0, 0, 0, 0,
   0, 0, 0.2, 0.8, 2.9, 2.0, 1.0, 0.3, 0, 0,  0, 0, 0, 0, 0, 0, 0, 0, 0, 0,  0.5, 3.1, 1.0, 0.2, 0, 0, 0, 0, 0, 0],
  [0, 0, 0, 0, 0, 0, 0, 0, 0, 0,  0, 0, 0, 0, 0, 0.2, 1.8, 1.9, 1.4, 0.6,  0.3, 0.2, 0.4, 1.0, 0.5, 0.1, 0, 0, 0, 0.2,
   0.8, 1.5, 2.9, 1.2, 0.4, 0, 0, 0, 0, 0,  0, 0, 0, 0.5, 2.0, 0.8, 0.2, 0, 0, 0,  0, 0, 0, 0, 0.3, 1.0, 1.5, 1.5, 1.4, 1.0],
  [0, 0, 0, 0, 0, 0, 0, 0, 0, 0,  0, 0, 0, 0, 0, 0.3, 2.5, 1.2, 0.5, 0.9,  1.5, 1.3, 0.8, 0.3, 0, 0, 0, 0, 0.1, 0.5,
   1.0, 0.5, 0.2, 0, 0, 0.5, 1.2, 2.0, 1.2, 0.3,  0, 0.5, 1.8, 0.6, 0.1, 0, 0, 0, 0, 0,  0, 0, 0, 0.6, 1.9, 1.0, 0.2, 0, 0, 0],
  [0, 0, 0, 0, 0, 0, 0, 0, 0, 0,  0, 0, 0, 0, 0, 0.3, 1.5, 2.0, 1.0, 0.5,  0.2, 0, 0, 0, 0, 0, 0, 0.3, 0.8, 0.4,
   0.1, 0, 0, 0.6, 1.4, 2.3, 1.5, 0.8, 0.2, 0,  1.7, 0.5, 0, 0, 0, 0, 0, 0.4, 1.0, 2.0,  0.6, 0, 0, 0, 0, 0, 0, 0, 0, 0],
  [0, 0, 0, 0, 0, 0, 0, 0, 0, 0,  0, 0, 0, 0, 0, 0.4, 2.0, 0.7, 0.5, 1.7,  0.9, 0.3, 0, 0, 0.2, 0.6, 1.0, 0.5, 0.1, 0,
   0, 0.3, 0.8, 1.4, 1.0, 0.4, 0, 0, 0, 0,  0, 0, 0, 0, 0.6, 2.2, 1.0, 0.2, 0, 0,  0, 0.3, 1.0, 0.5, 0, 0, 0, 0, 0, 0],
  [0, 0, 0, 0, 0, 0, 0, 0, 0, 0,  0, 0, 0, 0, 0, 0.2, 1.2, 1.6, 1.2, 2.0,  0.7, 0.2, 0, 0, 0, 0, 0, 0, 0, 0,
   0.3, 1.0, 2.0, 1.5, 0.6, 0.2, 0, 0.2, 0.6, 1.4,  0.8, 0.2, 0, 0, 0, 0, 0, 0.5, 1.6, 1.0,  0.3, 0, 0, 0, 0, 0, 0, 0, 0, 0],
  [0, 0, 0, 0, 0, 0, 0, 0, 0, 0,  0, 0, 0, 0, 0, 0.2, 0.9, 0.5, 0.2, 0.8,  1.2, 2.3, 1.0, 0.3, 0, 0, 0, 0, 0, 0,
   0, 0.4, 0.9, 0.6, 0.3, 1.2, 2.6, 1.8, 1.0, 0.3,  0, 0, 0.5, 1.5, 0.4, 0, 0, 0, 0, 0,  1.8, 0.6, 0, 0, 0, 0, 0, 0, 0, 0],
  [0, 0, 0, 0, 0, 0, 0, 0, 0, 0,  0, 0, 0, 0, 0, 0.3, 1.6, 0.8, 1.8, 1.0,  0.4, 0, 0, 0, 0, 0, 0, 0, 0.4, 1.2,
   2.1, 1.2, 0.5, 0.2, 0, 0, 0, 0, 0, 0,  0, 1.1, 0.5, 0, 0, 0.3, 1.4, 2.0, 0.6, 0,  0, 0, 0, 0, 0, 0, 0.5, 1.9, 0.8, 0.2],
  [0, 0, 0, 0, 0, 0, 0, 0, 0, 0,  0, 0, 0, 0, 0, 0.1, 0.6, 0.3, 0.2, 0.3,  0.1, 0, 0, 0, 0, 0, 0, 0, 0, 0,
   0, 0.4, 0.6, 0.3, 0.1, 0, 0, 0, 0.8, 0.4,  0, 0, 0, 0, 0, 0, 0, 0, 0, 0,  0, 0, 0, 0.5, 0.2, 0, 0.7, 0.3, 0, 0],
  [0, 0, 0, 0, 0, 0, 0, 0, 0, 0,  0, 0, 0, 0, 0, 0.2, 1.4, 0.9, 0.6, 1.2,  0.8, 0.5, 0.3, 0, 0, 0, 0, 0, 0, 0,
   0, 0.2, 0.6, 0.3, 0, 0, 0, 0, 0, 0,  0, 0, 0, 0.3, 1.0, 0.4, 0, 0, 0, 0,  0, 0, 0, 0, 0.4, 0.8, 0.3, 0, 0, 0],
  [0, 0, 0, 0, 0, 0, 0, 0, 0, 0,  0, 0, 0, 0, 0, 0.1, 1.0, 0.6, 0.3, 0.4,  0.2, 0, 0, 0, 0, 0, 0, 0, 0, 0,
   0.3, 0.8, 1.2, 0.6, 0.2, 0, 0.5, 0.3, 0, 0,  0, 0, 0, 0, 0, 0, 0, 0.5, 0.8, 0.2,  0, 0, 0, 0, 0, 0, 0, 0, 0, 0]
];

const FONT = "'Liberation Sans',Arial,sans-serif";
const GREEN = '#74b045';
const PINK = '#e050e0';
const TITLE = 'Dinsdag   30 Juli      2013  (starttijd  Ma 12 UTC)';

const panels = [
  { ox: 0,   oy: 0,   min: 0, max: 30,  step: 5,  unit: 'mm',      sub: 'Neerslag/6 uur', pink: 20,   dots: [15],
    members: rainMembers, ctl: rainCtl, oper: rainOper, mean: rainMean },
  { ox: 389, oy: 0,   min: 0, max: 120, step: 20, unit: 'mm',      sub: 'Accum Neerslag', pink: null, dots: [],
    members: accMembers, ctl: accCtl, oper: accOper, mean: accMean },
  { ox: 0,   oy: 185, min: 0, max: 20,  step: 5,  unit: 'm/s',     sub: '10m wind',       pink: null, dots: [10.8, 13.9, 17.2],
    members: windMembers, ctl: windCtl, oper: windOper, mean: windMean },
  { ox: 389, oy: 185, min: 0, max: 30,  step: 5,  unit: 'm/s',     sub: 'Windstoten',     pink: 28.5, dots: [25, 20],
    members: gustMembers, ctl: gustCtl, oper: gustOper, mean: gustMean },
  { ox: 0,   oy: 369, min: 5, max: 40,  step: 5,  unit: 'Celsius', sub: 'T2m',            pink: 30,   dots: [25],
    members: tempMembers, ctl: tempCtl, oper: tempOper, mean: tempMean },
  { ox: 389, oy: 369, min: 0, max: 5,   step: 1,  unit: 'kJ/kg',   sub: 'Cape/Onweer',    pink: 2,    dots: [1],
    members: capeMembers, ctl: capeCtl, oper: capeOper, mean: capeMean }
];

// waarde k hoort bij +6(k+1) uur
const toXY = arr => arr.map((v, k) => [(k + 1) * 6, v]);

const grids = [], xAxes = [], yAxes = [], series = [], graphics = [];

panels.forEach((p, k) => {
  grids.push({ left: p.ox + 32, top: p.oy + 18, width: 326, height: 138 });

  xAxes.push({
    gridIndex: k, type: 'value', min: 0, max: 360, interval: 12,
    axisLine: { show: true, onZero: false, lineStyle: { color: '#000', width: 1 } },
    axisTick: { show: true, length: 3, lineStyle: { color: '#000' } },
    splitLine: { show: false },
    axisLabel: {
      margin: 1, color: '#000',
      formatter: v => (v % 24 === 0 ? '{d|' + dayNames[v / 24] + '}' : '{s|00}'),
      rich: {
        d: { fontFamily: FONT, fontSize: 10, color: '#000', padding: [2, 0, 0, 0] },
        s: { fontFamily: FONT, fontSize: 6, color: '#000' }
      }
    }
  });

  const yBase = {
    gridIndex: k, type: 'value', min: p.min, max: p.max, interval: p.step,
    axisLine: { show: true, onZero: false, lineStyle: { color: '#000', width: 1 } },
    axisTick: { show: true, length: 3, lineStyle: { color: '#000' } },
    splitLine: { show: false },
    axisLabel: { color: '#000', fontFamily: FONT, fontSize: 11, margin: 4 }
  };
  yAxes.push(Object.assign({}, yBase, {
    position: 'left', name: p.unit, nameLocation: 'middle', nameGap: 14, nameRotate: 90,
    nameMoveOverlap: false,
    nameTextStyle: { fontFamily: FONT, fontSize: 13, fontWeight: 'bold', color: '#000' }
  }));
  yAxes.push(Object.assign({}, yBase, { position: 'right' }));

  const refLines = [];
  if (p.pink !== null) refLines.push({ yAxis: p.pink, lineStyle: { color: PINK, width: 1.5, type: [6, 4] } });
  p.dots.forEach(d => refLines.push({ yAxis: d, lineStyle: { color: '#000', width: 1, type: [1, 2] } }));

  p.members.forEach((m, j) => {
    const s = {
      type: 'line', xAxisIndex: k, yAxisIndex: 2 * k, data: toXY(m),
      showSymbol: false, symbol: 'none', silent: true, z: 2,
      lineStyle: { color: GREEN, width: 0.9 }
    };
    if (j === 0 && refLines.length) {
      s.markLine = { silent: true, symbol: 'none', label: { show: false }, data: refLines };
    }
    series.push(s);
  });
  series.push({
    type: 'line', xAxisIndex: k, yAxisIndex: 2 * k, data: toXY(p.oper),
    showSymbol: false, symbol: 'none', silent: true, z: 3,
    lineStyle: { color: '#d8401c', width: 1.6 }
  });
  series.push({
    type: 'line', xAxisIndex: k, yAxisIndex: 2 * k, data: toXY(p.ctl),
    showSymbol: false, symbol: 'none', silent: true, z: 4,
    lineStyle: { color: '#2438a8', width: 1.6, type: [5, 3] }
  });
  series.push({
    type: 'line', xAxisIndex: k, yAxisIndex: 2 * k, data: toXY(p.mean),
    showSymbol: false, symbol: 'none', silent: true, z: 5,
    lineStyle: { color: '#3b1a08', width: 2.6, type: [2.5, 2.5] }
  });

  // teksten en legenda per paneel
  const X = p.ox, Y = p.oy;
  const txt = (x, y, text, font, fill, align, valign) => ({
    type: 'text', x: X + x, y: Y + y, silent: true, z: 10,
    style: { text: text, font: font, fill: fill || '#000', textAlign: align || 'center', textVerticalAlign: valign || 'top' }
  });
  const seg = (y, stroke, width, dash) => ({
    type: 'line', silent: true, z: 10,
    shape: { x1: X + 34, y1: Y + y, x2: X + 57, y2: Y + y },
    style: { stroke: stroke, lineWidth: width, lineDash: dash }
  });
  graphics.push(txt(195, 3, TITLE, 'bold 11px ' + FONT));
  graphics.push(txt(319, 19, 'De Bilt', '11px ' + FONT));
  graphics.push(txt(319, 30, p.sub, '10.5px ' + FONT));
  graphics.push(txt(191, 167, 'Dag', 'bold 13px ' + FONT));
  graphics.push(txt(372, 172, 'Bron: ECMWF/KNMI', 'bold 7.5px ' + FONT, '#1a2a9a', 'right'));
  graphics.push(seg(25, '#2438a8', 1.6, [5, 3]));
  graphics.push(seg(31, '#d8401c', 1.6, null));
  graphics.push(seg(38, '#3b1a08', 2.6, [2.5, 2.5]));
  graphics.push(txt(79, 25, 'Control', '8px ' + FONT, '#000', 'center', 'middle'));
  graphics.push(txt(81, 32, 'Oper', '8px ' + FONT, '#000', 'center', 'middle'));
  graphics.push(txt(79, 38, 'Ens mn', '8px ' + FONT, '#000', 'center', 'middle'));
});

// paneelranden
[[0, 0], [389, 0], [0, 185], [389, 185], [0, 369], [389, 369]].forEach(([x, y]) => {
  graphics.push({
    type: 'rect', silent: true, z: 0,
    shape: { x: x + 0.75, y: y + 0.75, width: 388.5 - 0.75 + (x ? -0.5 : 0), height: (y === 369 ? 184.5 : 184) - 0.75 },
    style: { fill: 'none', stroke: '#4a4ac8', lineWidth: 1.5 }
  });
});

const chart = echarts.init(document.getElementById('main'), null, { renderer: 'canvas' });
chart.setOption({
  animation: false,
  backgroundColor: '#fff',
  grid: grids,
  xAxis: xAxes,
  yAxis: yAxes,
  series: series,
  graphic: graphics
});
</script>
</body>
</html>
